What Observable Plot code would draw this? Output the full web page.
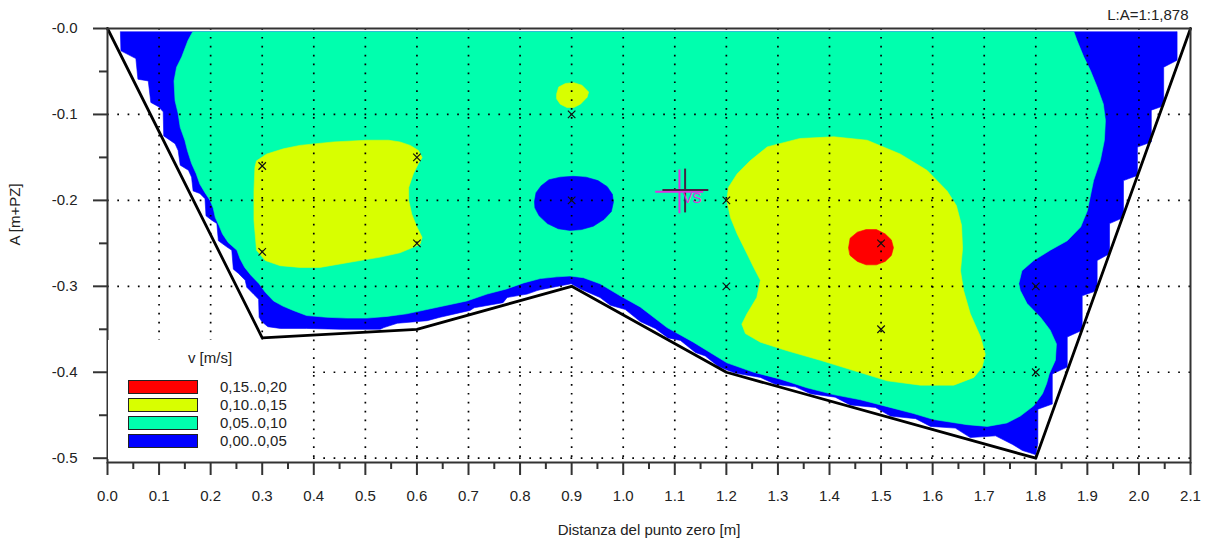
<!DOCTYPE html>
<html><head><meta charset="utf-8">
<script src="https://cdn.jsdelivr.net/npm/d3@7"></script>
<script src="https://cdn.jsdelivr.net/npm/@observablehq/plot@0.6"></script>
<style>
body{margin:0;background:#fff;font-family:"Liberation Sans",Arial,sans-serif;}
#wrap{position:relative;width:1208px;height:546px;}
#legend{position:absolute;left:108px;top:340px;width:197px;height:119px;background:#fff;color:#222;font-size:15px;}
#legend .lt{position:absolute;left:0;top:9px;width:204px;text-align:center;line-height:18px;}
#legend .sw{position:absolute;left:20px;width:70px;height:14px;box-sizing:border-box;border:1.5px solid #222;}
#legend .lb{position:absolute;left:112px;line-height:18px;}
</style></head><body><div id="wrap"></div>
<script>
// River bed profile (m)
const bedX = [0.0, 0.3, 0.6, 0.9, 1.2, 1.8, 2.1];
const bedY = [0.0, -0.36, -0.35, -0.30, -0.40, -0.50, 0.0];
// Measurement points
const ptX = [0.3, 0.3, 0.6, 0.6, 0.9, 0.9, 1.2, 1.2, 1.5, 1.5, 1.8, 1.8];
const ptY = [-0.16, -0.26, -0.15, -0.25, -0.10, -0.20, -0.20, -0.30, -0.25, -0.35, -0.30, -0.40];
// Velocity classes
const legendLabels = ["0,15..0,20", "0,10..0,15", "0,05..0,10", "0,00..0,05"];
const legendColors = ["#ff0000", "#d8ff00", "#00ffae", "#0000ff"];
// Ticks
const xMajor = d3.range(0, 22).map(i => i / 10);
const xMinor = d3.range(0, 21).map(i => i / 10 + 0.05);
const yMajor = [0, -0.1, -0.2, -0.3, -0.4, -0.5];
const yMinor = [-0.05, -0.15, -0.25, -0.35, -0.45];
const gridX = d3.range(1, 21).map(i => i / 10);
const gridY = [-0.1, -0.2, -0.3, -0.4, -0.5];

// Isotach regions, outlines [x m, y m]
const blueZone = [
 [0.025,-0.004],[0.026,-0.026],[0.055,-0.035],[0.059,-0.059],[0.079,-0.061],[0.084,-0.086],[0.099,-0.091],[0.108,-0.097],[0.109,-0.125],[0.131,-0.134],[0.137,-0.142],[0.141,-0.159],[0.157,-0.165],[0.163,-0.173],[0.166,-0.189],[0.179,-0.192],[0.189,-0.198],[0.191,-0.218],[0.202,-0.223],[0.212,-0.227],[0.215,-0.247],[0.231,-0.254],[0.241,-0.258],[0.244,-0.280],[0.254,-0.285],[0.267,-0.293],[0.270,-0.301],[0.283,-0.309],[0.293,-0.315],[0.294,-0.336],[0.299,-0.341],
 [0.311,-0.347],[0.335,-0.349],[0.386,-0.349],[0.451,-0.350],[0.529,-0.350],[0.536,-0.348],[0.562,-0.343],[0.620,-0.340],[0.645,-0.336],[0.703,-0.328],[0.711,-0.325],[0.767,-0.319],[0.775,-0.313],[0.814,-0.309],[0.833,-0.305],[0.839,-0.304],[0.899,-0.297],
 [0.917,-0.303],[0.955,-0.313],[0.975,-0.322],[1.004,-0.327],[1.033,-0.341],[1.062,-0.349],[1.087,-0.360],[1.111,-0.363],[1.140,-0.377],[1.159,-0.381],[1.184,-0.393],[1.200,-0.397],
 [1.217,-0.401],[1.266,-0.406],[1.295,-0.414],[1.334,-0.417],[1.363,-0.425],[1.411,-0.429],[1.440,-0.438],[1.489,-0.441],[1.518,-0.451],[1.567,-0.454],[1.596,-0.463],[1.644,-0.465],[1.673,-0.476],[1.722,-0.474],[1.755,-0.484],[1.774,-0.491],[1.790,-0.494],[1.800,-0.496],
 [1.804,-0.483],[1.804,-0.443],[1.832,-0.437],[1.832,-0.402],[1.861,-0.394],[1.861,-0.359],[1.890,-0.351],[1.890,-0.311],[1.919,-0.305],[1.919,-0.270],[1.943,-0.262],[1.943,-0.227],[1.970,-0.220],[1.970,-0.177],[1.997,-0.171],[1.997,-0.138],[2.024,-0.132],[2.024,-0.095],[2.048,-0.090],[2.048,-0.045],[2.074,-0.037],[2.074,-0.004]
];
const greenZone = [
 [0.165,-0.004],[0.156,-0.014],[0.144,-0.033],[0.134,-0.045],[0.129,-0.061],[0.131,-0.084],[0.137,-0.099],[0.141,-0.115],[0.150,-0.130],[0.155,-0.142],[0.163,-0.157],[0.172,-0.169],[0.179,-0.181],[0.189,-0.191],[0.199,-0.200],[0.205,-0.209],[0.209,-0.220],[0.216,-0.229],[0.223,-0.239],[0.234,-0.249],[0.251,-0.258],[0.257,-0.268],[0.266,-0.278],[0.278,-0.287],[0.294,-0.297],[0.306,-0.307],[0.322,-0.317],[0.340,-0.323],[0.360,-0.328],[0.386,-0.334],
 [0.425,-0.336],[0.464,-0.337],[0.503,-0.337],[0.542,-0.335],[0.580,-0.332],[0.619,-0.327],[0.658,-0.322],[0.697,-0.317],[0.736,-0.309],[0.774,-0.303],[0.807,-0.296],[0.839,-0.291],[0.871,-0.289],[0.897,-0.288],[0.923,-0.290],[0.955,-0.297],[0.994,-0.311],[1.033,-0.324],[1.085,-0.348],[1.136,-0.365],[1.201,-0.389],[1.253,-0.400],[1.305,-0.408],[1.356,-0.418],[1.408,-0.426],[1.460,-0.432],[1.512,-0.440],[1.563,-0.448],[1.602,-0.455],[1.667,-0.461],[1.706,-0.463],[1.744,-0.459],[1.770,-0.451],[1.796,-0.439],[1.813,-0.425],[1.821,-0.413],[1.826,-0.402],[1.838,-0.386],[1.840,-0.367],[1.828,-0.351],[1.809,-0.336],[1.783,-0.320],[1.770,-0.305],[1.767,-0.297],[1.773,-0.282],[1.796,-0.270],[1.828,-0.258],[1.861,-0.247],[1.887,-0.231],[1.900,-0.212],[1.912,-0.177],[1.925,-0.154],[1.933,-0.130],[1.935,-0.107],[1.931,-0.088],[1.919,-0.068],[1.906,-0.049],[1.893,-0.033],[1.880,-0.014],[1.874,-0.004]
];
const yellowLeft = [
 [0.286,-0.161],[0.289,-0.154],[0.309,-0.146],[0.341,-0.140],[0.373,-0.136],[0.438,-0.132],[0.503,-0.130],[0.545,-0.130],[0.567,-0.132],[0.587,-0.136],[0.603,-0.142],[0.610,-0.150],[0.603,-0.157],[0.593,-0.169],[0.584,-0.185],[0.584,-0.200],[0.590,-0.216],[0.600,-0.231],[0.610,-0.243],[0.606,-0.251],[0.587,-0.256],[0.567,-0.261],[0.529,-0.266],[0.470,-0.272],[0.412,-0.278],[0.373,-0.278],[0.335,-0.276],[0.306,-0.270],[0.289,-0.258],[0.284,-0.223],[0.284,-0.189]
];
const yellowTop = [
 [0.871,-0.076],[0.875,-0.068],[0.888,-0.064],[0.904,-0.063],[0.920,-0.066],[0.933,-0.074],[0.930,-0.080],[0.917,-0.088],[0.904,-0.092],[0.891,-0.092],[0.878,-0.088],[0.871,-0.082]
];
const yellowRight = [
 [1.343,-0.128],[1.408,-0.126],[1.473,-0.130],[1.537,-0.146],[1.589,-0.165],[1.628,-0.189],[1.646,-0.206],[1.656,-0.229],[1.658,-0.256],[1.654,-0.282],[1.660,-0.305],[1.673,-0.332],[1.693,-0.359],[1.702,-0.379],[1.696,-0.394],[1.680,-0.406],[1.641,-0.415],[1.576,-0.415],[1.512,-0.410],[1.447,-0.398],[1.382,-0.386],[1.318,-0.375],[1.266,-0.365],[1.237,-0.355],[1.230,-0.344],[1.240,-0.332],[1.259,-0.313],[1.266,-0.293],[1.253,-0.278],[1.240,-0.262],[1.221,-0.239],[1.208,-0.220],[1.201,-0.200],[1.204,-0.185],[1.221,-0.169],[1.246,-0.154],[1.279,-0.138]
];
const redZone = [
 [1.437,-0.255],[1.440,-0.244],[1.454,-0.237],[1.471,-0.234],[1.491,-0.234],[1.508,-0.239],[1.520,-0.246],[1.524,-0.255],[1.520,-0.264],[1.508,-0.271],[1.491,-0.275],[1.471,-0.275],[1.454,-0.271],[1.440,-0.264]
];
const blueCore = [
 [0.828,-0.201],[0.831,-0.191],[0.841,-0.183],[0.856,-0.176],[0.878,-0.173],[0.903,-0.172],[0.928,-0.173],[0.951,-0.177],[0.969,-0.184],[0.979,-0.193],[0.981,-0.202],[0.977,-0.213],[0.963,-0.222],[0.942,-0.230],[0.919,-0.234],[0.897,-0.235],[0.874,-0.233],[0.853,-0.227],[0.837,-0.218],[0.829,-0.209]
];
// Centre-of-flow cross (VS)
const crossX1 = [1.109, 1.120, 1.062, 1.076];
const crossX2 = [1.109, 1.120, 1.155, 1.165];
const crossY1 = [-0.164, -0.163, -0.190, -0.188];
const crossY2 = [-0.215, -0.214, -0.190, -0.188];
const crossColor = ["#e030e0", "#442244", "#e030e0", "#442244"];
const vsLabel = {x: 1.134, y: -0.198, text: "VS"};

const bed = bedX.map((x, i) => ({x, y: bedY[i]}));
const pts = ptX.map((x, i) => ({x, y: ptY[i]}));
const cross = crossX1.map((x, i) => ({x1: x, x2: crossX2[i], y1: crossY1[i], y2: crossY2[i], c: crossColor[i]}));
const P = {x: d => d[0], y: d => d[1], curve: "linear-closed", strokeWidth: 0.6};
const yFmt = d => d === 0 ? "-0.0" : d.toFixed(1);

const chart = Plot.plot({
  width: 1208, height: 546,
  marginLeft: 107, marginRight: 18, marginTop: 28, marginBottom: 84,
  x: {domain: [0, 2.1]},
  y: {domain: [-0.505, 0]},
  style: {fontFamily: "'Liberation Sans', Arial, sans-serif", fontSize: "15px", color: "#222", background: "#fff"},
  marks: [
    Plot.line(blueZone, {...P, fill: legendColors[3], stroke: legendColors[3]}),
    Plot.line(greenZone, {...P, fill: legendColors[2], stroke: legendColors[2]}),
    Plot.line(yellowLeft, {...P, fill: legendColors[1], stroke: legendColors[1]}),
    Plot.line(yellowTop, {...P, fill: legendColors[1], stroke: legendColors[1]}),
    Plot.line(yellowRight, {...P, fill: legendColors[1], stroke: legendColors[1]}),
    Plot.line(redZone, {...P, fill: legendColors[0], stroke: legendColors[0]}),
    Plot.line(blueCore, {...P, fill: legendColors[3], stroke: legendColors[3]}),
    Plot.ruleX(gridX, {stroke: "#000", strokeWidth: 1.7, strokeDasharray: "1.7,7.2"}),
    Plot.ruleY(gridY, {stroke: "#000", strokeWidth: 1.7, strokeDasharray: "1.7,8.6"}),
    Plot.line(bed, {x: "x", y: "y", stroke: "#000", strokeWidth: 2.8}),
    Plot.dot(pts, {x: "x", y: "y", symbol: "times", r: 3.5, stroke: "#111", strokeWidth: 1.2}),
    Plot.link(cross, {x1: "x1", x2: "x2", y1: "y1", y2: "y2", stroke: "c", strokeWidth: 2}),
    Plot.text([vsLabel], {x: "x", y: "y", text: "text", fill: "#e030e0", fontSize: 14}),
    Plot.frame({stroke: "#333", strokeWidth: 2}),
    Plot.axisX({ticks: xMajor, tickSize: 13, tickPadding: 15, tickFormat: d => d.toFixed(1), label: null, stroke: "#333", strokeWidth: 2, fill: "#222"}),
    Plot.axisX({ticks: xMinor, tickSize: 7, tickFormat: () => "", label: null, stroke: "#333", strokeWidth: 2}),
    Plot.axisY({ticks: yMajor, tickSize: 14, tickPadding: 16, tickFormat: yFmt, label: null, stroke: "#333", strokeWidth: 2, fill: "#222"}),
    Plot.axisY({ticks: yMinor, tickSize: 8, tickFormat: () => "", label: null, stroke: "#333", strokeWidth: 2}),
    Plot.text(["Distanza del punto zero [m]"], {frameAnchor: "bottom", lineAnchor: "middle", dy: 68, fill: "#222"}),
    Plot.text(["A [m+PZ]"], {frameAnchor: "left", dx: -92, rotate: -90, fill: "#222"}),
    Plot.text(["L:A=1:1,878"], {frameAnchor: "top-right", lineAnchor: "middle", dy: -13, textAnchor: "end", dx: -2, fill: "#222"})
  ]
});
const wrap = document.getElementById("wrap");
wrap.appendChild(chart);

const lg = document.createElement("div");
lg.id = "legend";
let html = '<div class="lt">v [m/s]</div>';
legendLabels.forEach((l, i) => {
  const top = 40 + i * 18;
  html += `<div class="sw" style="top:${top}px;background:${legendColors[i]}"></div>`;
  html += `<div class="lb" style="top:${top - 2}px">${l}</div>`;
});
lg.innerHTML = html;
wrap.appendChild(lg);
</script>
</body></html>
